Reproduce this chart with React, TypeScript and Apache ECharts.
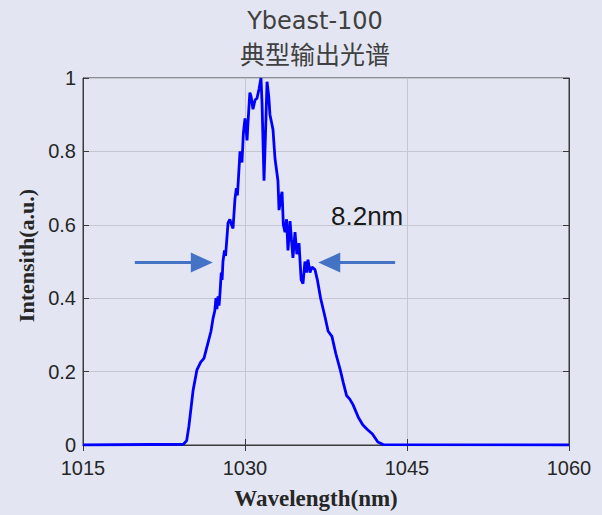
import React, { useEffect, useRef } from "react";
import * as echarts from "echarts";

const titleLine1 = "Ybeast-100";
const titleLine2 = "典型输出光谱";
const xAxisName = "Wavelength(nm)";
const yAxisName = "Intensith(a.u.)";
const fwhmLabel = "8.2nm";

const wavelength = [
  1015, 1024.3, 1024.6, 1024.8, 1025.0, 1025.2, 1025.55, 1025.9, 1026.2, 1026.5,
  1026.85, 1027.04, 1027.2, 1027.31, 1027.4, 1027.5, 1027.6, 1027.7, 1027.8, 1027.88,
  1027.96, 1028.1, 1028.2, 1028.43, 1028.6, 1028.75, 1028.89, 1029.07, 1029.2, 1029.3,
  1029.54, 1029.72, 1029.85, 1030.0, 1030.1, 1030.19, 1030.28, 1030.45, 1030.56, 1030.74,
  1030.93, 1031.11, 1031.3, 1031.48, 1031.58, 1031.76, 1031.9, 1032.04, 1032.2, 1032.31,
  1032.45, 1032.59, 1032.78, 1032.96, 1033.05, 1033.15, 1033.3, 1033.43, 1033.55, 1033.7,
  1033.85, 1033.98, 1034.17, 1034.3, 1034.44, 1034.63, 1034.8, 1035.0, 1035.2, 1035.37,
  1035.55, 1035.7, 1035.83, 1036.02, 1036.2, 1036.48, 1036.7, 1037.0, 1037.4, 1037.7,
  1038.05, 1038.4, 1038.8, 1039.1, 1039.4, 1039.7, 1040.0, 1040.5, 1040.9, 1041.3,
  1041.8, 1042.3, 1042.8, 1060,
];

const intensity = [
  0, 0.002, 0.012, 0.05, 0.1, 0.15, 0.205, 0.226, 0.236, 0.27,
  0.31, 0.345, 0.365, 0.4, 0.37, 0.405, 0.38, 0.42, 0.47, 0.45,
  0.5, 0.53, 0.515, 0.605, 0.615, 0.6, 0.59, 0.67, 0.7, 0.68,
  0.8, 0.77, 0.85, 0.89, 0.86, 0.83, 0.88, 0.96, 0.95, 0.915,
  0.94, 0.945, 0.97, 1.0, 0.93, 0.72, 0.85, 0.99, 0.95, 0.9,
  0.88, 0.86, 0.78, 0.74, 0.72, 0.64, 0.67, 0.69, 0.6, 0.58,
  0.615, 0.53, 0.61, 0.56, 0.51, 0.58, 0.52, 0.55, 0.45, 0.44,
  0.5, 0.47, 0.505, 0.47, 0.485, 0.478, 0.45, 0.4, 0.35, 0.31,
  0.296, 0.25, 0.207, 0.17, 0.135, 0.125, 0.11, 0.075, 0.055, 0.043,
  0.03, 0.008, 0.001, 0,
];

// FWHM arrows: [tail x, head centre x] at half maximum level
const halfLevel = 0.497;
const leftArrow = [1019.8, 1026.0];
const rightArrow = [1043.9, 1037.8];

const xTicks = { min: 1015, max: 1060, interval: 15 };
const yTicks = { min: 0, max: 1, interval: 0.2 };

const BG = "#e3e6f2";
const TICK_FONT = "'Liberation Sans', Arial, sans-serif";

export default function App() {
  const ref = useRef<HTMLDivElement>(null);

  useEffect(() => {
    document.body.style.margin = "0";
    document.body.style.background = BG;
    if (!ref.current) return;
    const chart = echarts.init(ref.current, undefined, { renderer: "svg" });

    const axisLabel = {
      color: "#262626",
      fontFamily: TICK_FONT,
      fontSize: 20,
      formatter: (v: number) => String(v),
    };

    const option: any = {
      animation: false,
      backgroundColor: BG,
      grid: {
        left: 83,
        right: 33,
        top: 78,
        bottom: 69,
        show: true,
        backgroundColor: BG,
        borderColor: "#3a3a3a",
        borderWidth: 1,
      },
      graphic: [
        {
          type: "text",
          x: 315,
          y: 21,
          style: {
            text: titleLine1,
            fill: "#404040",
            font: "24px 'DejaVu Sans'",
            textAlign: "center",
            textVerticalAlign: "middle",
          },
        },
        {
          type: "text",
          x: 315,
          y: 53,
          style: {
            text: titleLine2,
            fill: "#404040",
            font: "25px 'Noto Sans CJK SC'",
            textAlign: "center",
            textVerticalAlign: "middle",
          },
        },
        {
          type: "text",
          x: 331,
          y: 216,
          style: {
            text: fwhmLabel,
            fill: "#1a1a1a",
            font: "26px 'Liberation Sans', Arial",
            textAlign: "left",
            textVerticalAlign: "middle",
          },
        },
      ],
      xAxis: [
        {
          type: "value",
          min: xTicks.min,
          max: xTicks.max,
          interval: xTicks.interval,
          name: xAxisName,
          nameLocation: "middle",
          nameGap: 42,
          nameTextStyle: {
            fontFamily: "'Liberation Serif', 'Times New Roman', serif",
            fontWeight: "bold",
            fontSize: 23,
            color: "#262626",
            padding: [0, 20, 0, 0],
          },
          axisLine: { show: true, lineStyle: { color: "#3a3a3a", width: 1 } },
          axisTick: { show: true, inside: true, length: 6, lineStyle: { color: "#3a3a3a" } },
          axisLabel: { ...axisLabel, margin: 13 },
          splitLine: { show: true, lineStyle: { color: "#c4c6d0", width: 1 } },
        },
        {
          type: "value",
          position: "top",
          min: xTicks.min,
          max: xTicks.max,
          interval: xTicks.interval,
          axisLine: { show: true, lineStyle: { color: "#3a3a3a", width: 1 } },
          axisTick: { show: true, inside: true, length: 6, lineStyle: { color: "#3a3a3a" } },
          axisLabel: { show: false },
          splitLine: { show: false },
        },
      ],
      yAxis: [
        {
          type: "value",
          min: yTicks.min,
          max: yTicks.max,
          interval: yTicks.interval,
          name: yAxisName,
          nameLocation: "middle",
          nameGap: 42,
          nameTextStyle: {
            fontFamily: "'Liberation Serif', 'Times New Roman', serif",
            fontWeight: "bold",
            fontSize: 22,
            color: "#262626",
            padding: [0, 0, 0, 12],
          },
          axisLine: { show: true, lineStyle: { color: "#3a3a3a", width: 1 } },
          axisTick: { show: true, inside: true, length: 6, lineStyle: { color: "#3a3a3a" } },
          axisLabel: { ...axisLabel, margin: 7 },
          splitLine: { show: true, lineStyle: { color: "#c4c6d0", width: 1 } },
        },
        {
          type: "value",
          position: "right",
          min: yTicks.min,
          max: yTicks.max,
          interval: yTicks.interval,
          axisLine: { show: true, lineStyle: { color: "#3a3a3a", width: 1 } },
          axisTick: { show: true, inside: true, length: 6, lineStyle: { color: "#3a3a3a" } },
          axisLabel: { show: false },
          splitLine: { show: false },
        },
      ],
      series: [
        {
          type: "line",
          xAxisIndex: 0,
          yAxisIndex: 0,
          data: wavelength.map((w, i) => [w, intensity[i]]),
          showSymbol: false,
          symbol: "none",
          lineStyle: { color: "#0000ff", width: 2.8 },
          silent: true,
          markLine: {
            silent: true,
            symbol: ["none", "triangle"],
            symbolSize: [20, 22],
            label: { show: false },
            lineStyle: { color: "#4472c4", width: 3, type: "solid" },
            emphasis: { disabled: true },
            data: [
              [
                { coord: [leftArrow[0], halfLevel] },
                { coord: [leftArrow[1], halfLevel] },
              ],
              [
                { coord: [rightArrow[0], halfLevel] },
                { coord: [rightArrow[1], halfLevel] },
              ],
            ],
          },
        },
      ],
    };

    chart.setOption(option);
    return () => chart.dispose();
  }, []);

  return <div ref={ref} style={{ width: 602, height: 515 }} />;
}
